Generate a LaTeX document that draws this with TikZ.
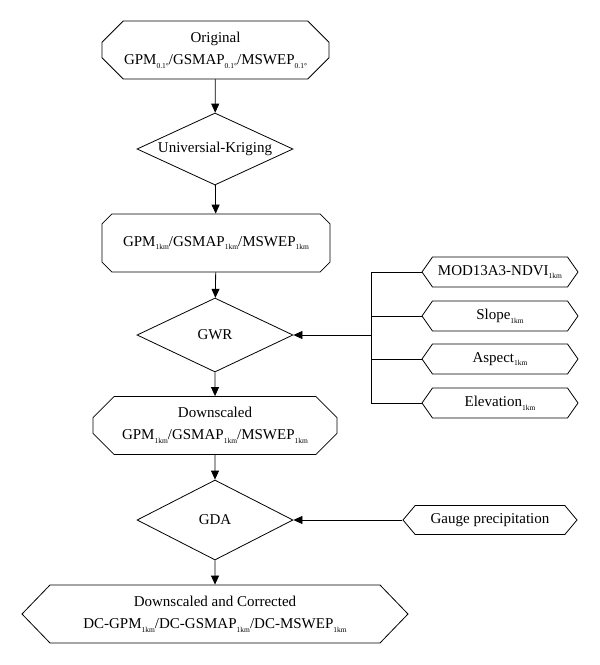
\documentclass[tikz,border=0pt]{standalone}
\usepackage{fontspec}
\setmainfont{Liberation Serif}
\usetikzlibrary{shapes.geometric,shapes.misc,shapes.symbols,arrows.meta}

\newcommand{\lowsub}[1]{\raisebox{-0.55ex}{\fontsize{7.5}{8}\selectfont #1}}

\begin{document}
\begin{tikzpicture}[x=1pt, y=-1pt, line width=0.8pt,
    font=\fontsize{15}{22}\selectfont,
    octbox/.style={draw, chamfered rectangle, chamfered rectangle xsep=20pt,
        minimum height=58pt, inner sep=0pt, align=center},
    sigbox/.style={draw, signal, signal to=west and east, signal pointer angle=110,
        minimum width=156pt, minimum height=30pt, inner sep=0pt, align=center},
    decide/.style={draw, diamond, aspect=2.1, minimum width=156pt, minimum height=74pt, inner sep=0pt},
    flow/.style={-{Triangle[length=9pt,width=8pt]}}]

    \useasboundingbox (0, 0) rectangle (600, 665);

    % Main chain
    \node[octbox, minimum width=227pt] (orig) at (215.5, 50) {Original\\GPM\lowsub{0.1°}/GSMAP\lowsub{0.1°}/MSWEP\lowsub{0.1°}};
    \node[decide, minimum height=72pt] (krig) at (215, 149) {Universial-Kriging};
    \node[octbox, minimum width=228pt] (gpm) at (216, 243) {GPM\lowsub{1km}/GSMAP\lowsub{1km}/MSWEP\lowsub{1km}};
    \node[decide] (gwr) at (215, 335) {GWR};
    \node[octbox, minimum width=244pt] (down) at (215, 425.5) {Downscaled\\GPM\lowsub{1km}/GSMAP\lowsub{1km}/MSWEP\lowsub{1km}};
    \node[decide, minimum height=80pt] (gda) at (215, 520) {GDA};
    \node[sigbox, minimum width=386pt, minimum height=58pt, signal pointer angle=92] (final) at (215, 614) {Downscaled and Corrected\\DC-GPM\lowsub{1km}/DC-GSMAP\lowsub{1km}/DC-MSWEP\lowsub{1km}};

    % Auxiliary inputs
    \node[sigbox] (ndvi) at (500, 272) {MOD13A3-NDVI\lowsub{1km}};
    \node[sigbox] (slope) at (500, 316) {Slope\lowsub{1km}};
    \node[sigbox] (aspect) at (500, 359) {Aspect\lowsub{1km}};
    \node[sigbox] (elev) at (500, 403) {Elevation\lowsub{1km}};
    \node[sigbox, minimum width=174pt, minimum height=29pt, signal pointer angle=100] (gauge) at (490, 520) {Gauge precipitation};

    \coordinate (bus) at (371, 335);

    % Connections
    \draw[flow] (orig) -- (krig);
    \draw[flow] (krig) -- (gpm);
    \draw[flow] (gpm) -- (gwr);
    \draw[flow] (gwr) -- (down);
    \draw[flow] (down) -- (gda);
    \draw[flow] (gda) -- (final);
    \draw (ndvi.west) -- (ndvi.west -| bus) -- (elev.west -| bus) -- (elev.west);
    \draw (slope.west) -- (slope.west -| bus);
    \draw (aspect.west) -- (aspect.west -| bus);
    \draw[flow] (bus) -- (gwr.east);
    \draw[flow] (gauge.west) -- (gda.east);

\end{tikzpicture}
\end{document}
